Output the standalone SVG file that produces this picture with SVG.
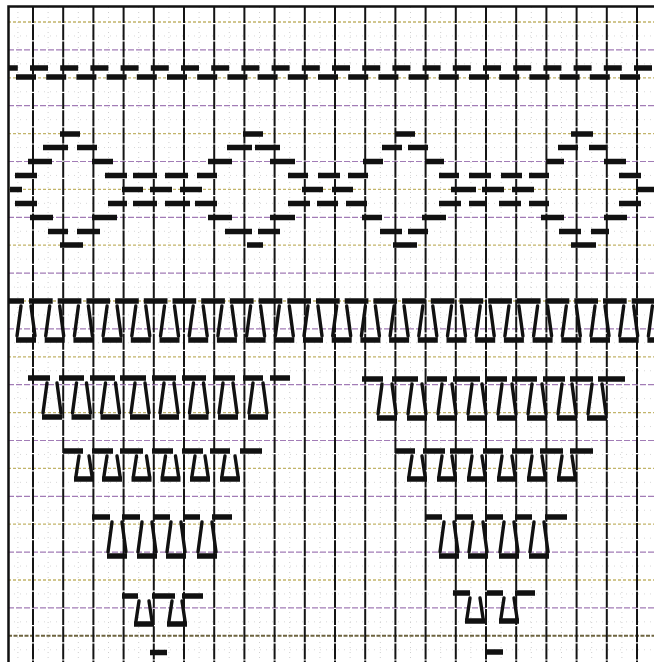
<svg xmlns="http://www.w3.org/2000/svg" width="654" height="662" viewBox="0 0 654 662">
<style>
.vg{stroke:#141414;stroke-width:2;stroke-dasharray:16 1.2;fill:none}
.vm{stroke:#cfcfcf;stroke-width:1;stroke-dasharray:1 4;fill:none}
.hy{stroke:#c2b46a;stroke-width:1.3;stroke-dasharray:3 2;fill:none}
.hp{stroke:#a27cb6;stroke-width:1.2;stroke-dasharray:6 2;fill:none}
.hm{stroke:#d8d8d8;stroke-width:1;stroke-dasharray:1 5;fill:none}
.d{stroke:#111;stroke-width:5.5;fill:none}
.leg{stroke:#111;stroke-width:3.4;fill:none;stroke-linecap:round}
</style>
<defs>
<clipPath id="c"><rect x="9" y="7" width="645" height="655"/></clipPath>
<g id="T"><path class="leg" d="M-5 5L-9 35M5 5L9 35"/><path class="d" d="M-10 39H10"/></g>
<g id="S"><path class="leg" d="M-5 5L-8 25M5 5L8 25"/><path class="d" d="M-10 28H10"/></g>
</defs>
<rect width="654" height="662" fill="#fff"/>
<g id="grid" clip-path="url(#c)">
<path class="hm" d="M8 35.95H654M8 63.85H654M8 91.75H654M8 119.65H654M8 147.55H654M8 175.45H654M8 203.35H654M8 231.25H654M8 259.15H654M8 287.05H654M8 314.95H654M8 342.85H654M8 370.75H654M8 398.65H654M8 426.55H654M8 454.45H654M8 482.35H654M8 510.25H654M8 538.15H654M8 566.05H654M8 593.95H654M8 621.85H654M8 649.75H654"/>
<path class="vm" d="M17.9 7V662M48.1 7V662M78.3 7V662M108.5 7V662M138.7 7V662M168.9 7V662M199.1 7V662M229.3 7V662M259.5 7V662M289.7 7V662M319.9 7V662M350.1 7V662M380.3 7V662M410.5 7V662M440.7 7V662M470.9 7V662M501.1 7V662M531.3 7V662M561.5 7V662M591.7 7V662M621.9 7V662"/>
<path class="hy" d="M8 22H654M8 77.8H654M8 133.6H654M8 189.4H654M8 245.2H654M8 301H654M8 356.8H654M8 412.6H654M8 468.4H654M8 524.2H654M8 580H654"/>
<path class="hp" d="M8 49.9H654M8 105.7H654M8 161.5H654M8 217.3H654M8 273.1H654M8 328.9H654M8 384.7H654M8 440.5H654M8 496.3H654M8 552.1H654M8 607.9H654"/>
<path d="M8 635.8H654" stroke="#6e6440" stroke-width="2" stroke-dasharray="4 1.5" fill="none"/>
<path class="vg" d="M33 7V662M63.2 7V662M93.4 7V662M123.6 7V662M153.8 7V662M184 7V662M214.2 7V662M244.4 7V662M274.6 7V662M304.8 7V662M335 7V662M365.2 7V662M395.4 7V662M425.6 7V662M455.8 7V662M486 7V662M516.2 7V662M546.4 7V662M576.6 7V662M606.8 7V662M637 7V662"/>
</g>
<g id="frame" stroke="#111" fill="none">
<path d="M8.5 662V6.5H654" stroke-width="2.5"/>
</g>
<g id="marks" clip-path="url(#c)">
<g id="top-border">
<path class="d" stroke-width="4.5" d="M0 68H17.8M30 68H48M60.2 68H78.2M90.4 68H108.4M120.6 68H138.6M150.8 68H168.8M181 68H199M211.2 68H229.2M241.4 68H259.4M271.6 68H289.6M301.8 68H319.8M332 68H350M362.2 68H380.2M392.4 68H410.4M422.6 68H440.6M452.8 68H470.8M483 68H501M513.2 68H531.2M543.4 68H561.4M573.6 68H591.6M603.8 68H621.8M634 68H652"/>
<path class="d" d="M16 77H36M46.2 77H66.2M76.4 77H96.4M106.6 77H126.6M136.8 77H156.8M167 77H187M197.2 77H217.2M227.4 77H247.4M257.6 77H277.6M287.8 77H307.8M318 77H338M348.2 77H368.2M378.4 77H398.4M408.6 77H428.6M438.8 77H458.8M469 77H489M499.2 77H519.2M529.4 77H549.4M559.6 77H579.6M589.8 77H609.8M620 77H640"/>
</g>
<g id="diamonds">
<path class="d" d="M60 134H80M243 134H263M395 134H415M571 134H593
M43 147.5H68M77 147.5H97M227 147.5H252M255 147.5H280M382 147.5H402M408 147.5H428M558 147.5H578M589 147.5H606
M28 161.5H52M92 161.5H113M208 161.5H232M270 161.5H295M363 161.5H383M425 161.5H444M546 161.5H564M604 161.5H626
M15 175.5H37M105 175.5H127M133 175.5H157M165 175.5H188M197 175.5H217M288 175.5H308M318 175.5H340M348 175.5H368M439 175.5H459M469 175.5H491M501 175.5H522M529 175.5H549M619 175.5H641
M10 189.5H22M122 189.5H143M150 189.5H172M180 189.5H202M302 189.5H323M332 189.5H353M451 189.5H476M482 189.5H504M512 189.5H534M637 189.5H654
M15 203.5H37M108 203.5H127M133 203.5H157M165 203.5H190M195 203.5H217M288 203.5H310M317 203.5H338M346 203.5H367M439 203.5H461M469 203.5H487M499 203.5H521M529 203.5H549M619 203.5H641
M30 217.5H53M92 217.5H117M208 217.5H232M270 217.5H295M362 217.5H382M422 217.5H446M541 217.5H564M604 217.5H627
M48 231.5H68M77 231.5H100M225 231.5H252M258 231.5H280M380 231.5H402M408 231.5H428M559 231.5H581M591 231.5H609
M60 245H83M247 245H263M393 245H417M571 245H596"/>
</g>
<g id="rowA">
<path class="d" d="M0.3 301H24M29 301H52.7M57.7 301H81.4M86.4 301H110.1M115.1 301H138.8M143.8 301H167.5M172.5 301H196.2M201.2 301H224.9M229.9 301H253.6M258.6 301H282.3M287.3 301H311M316 301H339.7M344.7 301H368.4M373.4 301H397.1M402.1 301H425.8M430.8 301H454.5M459.5 301H483.2M488.2 301H511.9M516.9 301H540.6M545.6 301H569.3M574.3 301H598M603 301H626.7M631.7 301H655.4"/>
<use href="#T" x="26" y="301"/><use href="#T" x="54.7" y="301"/><use href="#T" x="83.4" y="301"/><use href="#T" x="112.1" y="301"/><use href="#T" x="140.8" y="301"/><use href="#T" x="169.5" y="301"/><use href="#T" x="198.2" y="301"/><use href="#T" x="226.9" y="301"/><use href="#T" x="255.6" y="301"/><use href="#T" x="284.3" y="301"/><use href="#T" x="313" y="301"/><use href="#T" x="341.7" y="301"/><use href="#T" x="370.4" y="301"/><use href="#T" x="399.1" y="301"/><use href="#T" x="427.8" y="301"/><use href="#T" x="456.5" y="301"/><use href="#T" x="485.2" y="301"/><use href="#T" x="513.9" y="301"/><use href="#T" x="542.6" y="301"/><use href="#T" x="571.3" y="301"/><use href="#T" x="600" y="301"/><use href="#T" x="628.7" y="301"/><use href="#T" x="657.4" y="301"/>
</g>
<g id="rowB">
<path class="d" d="M28 378H50M59 378H84M90 378H115M120 378H146M152 378H176M182 378H206M213 378H235M243 378H263M270 378H290M362 379H383M392 379H418M427 379H447M453 379H480M487 379H507M512 379H537M543 379H565M570 379H593M598 379H625"/>
<use href="#T" x="52" y="378"/><use href="#T" x="81.5" y="378"/><use href="#T" x="110.5" y="378"/><use href="#T" x="140" y="378"/><use href="#T" x="169" y="378"/><use href="#T" x="198.5" y="378"/><use href="#T" x="228" y="378"/><use href="#T" x="258" y="378"/>
<use href="#T" x="387" y="379"/><use href="#T" x="417" y="379"/><use href="#T" x="447" y="379"/><use href="#T" x="477" y="379"/><use href="#T" x="507" y="379"/><use href="#T" x="537" y="379"/><use href="#T" x="567" y="379"/><use href="#T" x="597" y="379"/>
</g>
<g id="rowC">
<path class="d" d="M63 451H83M92 451H113M120 451H143M152 451H173M182 451H203M210 451H230M240 451H262M395 451H415M423 451H445M450 451H473M483 451H503M512 451H533M540 451H563M570 451H593"/>
<use href="#S" x="84" y="451"/><use href="#S" x="112" y="451"/><use href="#S" x="141.5" y="451"/><use href="#S" x="170.5" y="451"/><use href="#S" x="200" y="451"/><use href="#S" x="230" y="451"/>
<use href="#S" x="417" y="451"/><use href="#S" x="447" y="451"/><use href="#S" x="477" y="451"/><use href="#S" x="507" y="451"/><use href="#S" x="537" y="451"/><use href="#S" x="567" y="451"/>
</g>
<g id="rowD">
<path class="d" d="M92 517H110M122 517H140M153 517H170M183 517H200M212 517H232M425 517H442M455 517H473M485 517H503M515 517H532M545 517H567"/>
<use href="#T" x="117" y="517"/><use href="#T" x="147" y="517"/><use href="#T" x="176" y="517"/><use href="#T" x="207" y="517"/>
<use href="#T" x="449" y="517"/><use href="#T" x="478" y="517"/><use href="#T" x="509" y="517"/><use href="#T" x="539" y="517"/>
</g>
<g id="rowE">
<path class="d" d="M122 596H138M152 596H175M182 596H203M453 593H470M487 593H503M515 593H535"/>
<use href="#S" x="144" y="596"/><use href="#S" x="177" y="596"/>
<use href="#S" x="475" y="593"/><use href="#S" x="509" y="593"/>
</g>
<g id="rowF">
<path class="d" d="M150 652.5H167M485 652H503"/>
</g>
</g>
</svg>
